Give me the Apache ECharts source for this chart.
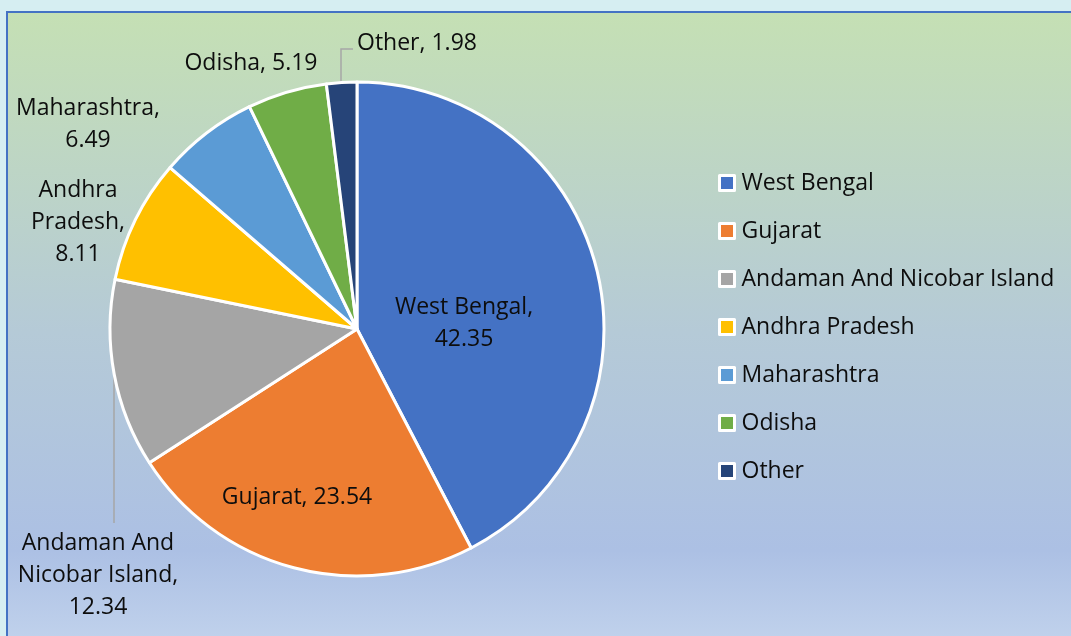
<!DOCTYPE html>
<html>
<head>
<meta charset="utf-8">
<script src="https://cdn.jsdelivr.net/npm/echarts@6/dist/echarts.min.js"></script>
<style>
  html, body { margin: 0; padding: 0; background: #d6eef2; }
  #chart { width: 1071px; height: 636px; }
</style>
</head>
<body>
<div id="chart"></div>
<script>
// 数据
const states = ['West Bengal', 'Gujarat', 'Andaman And Nicobar Island', 'Andhra Pradesh', 'Maharashtra', 'Odisha', 'Other'];
const shares = [42.35, 23.54, 12.34, 8.11, 6.49, 5.19, 1.98];
const colors = ['#4472c4', '#ed7d31', '#a5a5a5', '#ffc000', '#5b9bd5', '#70ad47', '#264478'];
// 标签里的换行方式
const labelText = [
  'West Bengal,\n42.35',
  'Gujarat, 23.54',
  'Andaman And\nNicobar Island,\n12.34',
  'Andhra\nPradesh,\n8.11',
  'Maharashtra,\n6.49',
  'Odisha, 5.19',
  'Other, 1.98'
];
const withLeader = ['Andaman And Nicobar Island', 'Other'];

// 标签位置 (像素)
const labelPos = [
  { x: 464, y: 323, align: 'center' },
  { x: 297, y: 497, align: 'center' },
  { x: 98, y: 575, align: 'center', line: [[114, 374], [114, 523]] },
  { x: 78, y: 222, align: 'center' },
  { x: 88, y: 124, align: 'center' },
  { x: 251, y: 63, align: 'center' },
  { x: 357, y: 43, align: 'left', line: [[341, 82], [341, 49], [353, 49]] }
];

const chart = echarts.init(document.getElementById('chart'));
const font = '"Open Sans", sans-serif';

const option = {
  backgroundColor: '#d6eef2',
  color: colors,
  graphic: [{
    type: 'rect',
    silent: true,
    z: -10,
    shape: { x: 7, y: 12, width: 1080, height: 640 },
    style: {
      fill: new echarts.graphic.LinearGradient(0, 0, 0, 1, [
        { offset: 0, color: '#c5e0b4' },
        { offset: 0.5, color: '#b5cad7' },
        { offset: 0.84, color: '#acc0e4' },
        { offset: 1, color: '#c3d4ed' }
      ]),
      stroke: '#4472c4',
      lineWidth: 2
    }
  }],
  legend: {
    orient: 'vertical',
    left: 718,
    top: 171,
    padding: 0,
    icon: 'rect',
    itemWidth: 15,
    itemHeight: 15,
    itemGap: 24,
    itemStyle: { borderColor: '#ffffff', borderWidth: 3 },
    textStyle: { fontFamily: font, fontSize: 23, lineHeight: 24, color: '#0d0d0d', padding: [0, 0, 0, 2] },
    data: states
  },
  series: [{
    type: 'pie',
    center: [357, 329],
    radius: 247,
    startAngle: 90,
    clockwise: true,
    avoidLabelOverlap: false,
    itemStyle: { borderColor: '#ffffff', borderWidth: 3 },
    label: {
      show: true,
      position: 'outside',
      fontFamily: font,
      fontSize: 23,
      lineHeight: 32,
      color: '#0d0d0d',
      formatter: (p) => labelText[p.dataIndex]
    },
    labelLine: {
      lineStyle: { color: '#a6a6a6', width: 1.5 }
    },
    labelLayout: (p) => {
      const pos = labelPos[p.dataIndex];
      const res = { x: pos.x, y: pos.y, align: pos.align, verticalAlign: 'middle' };
      if (pos.line) res.labelLinePoints = pos.line;
      return res;
    },
    emphasis: { disabled: true },
    data: states.map((name, i) => ({
      name: name,
      value: shares[i],
      labelLine: { show: withLeader.includes(name) }
    }))
  }]
};

chart.setOption(option);
</script>
</body>
</html>
